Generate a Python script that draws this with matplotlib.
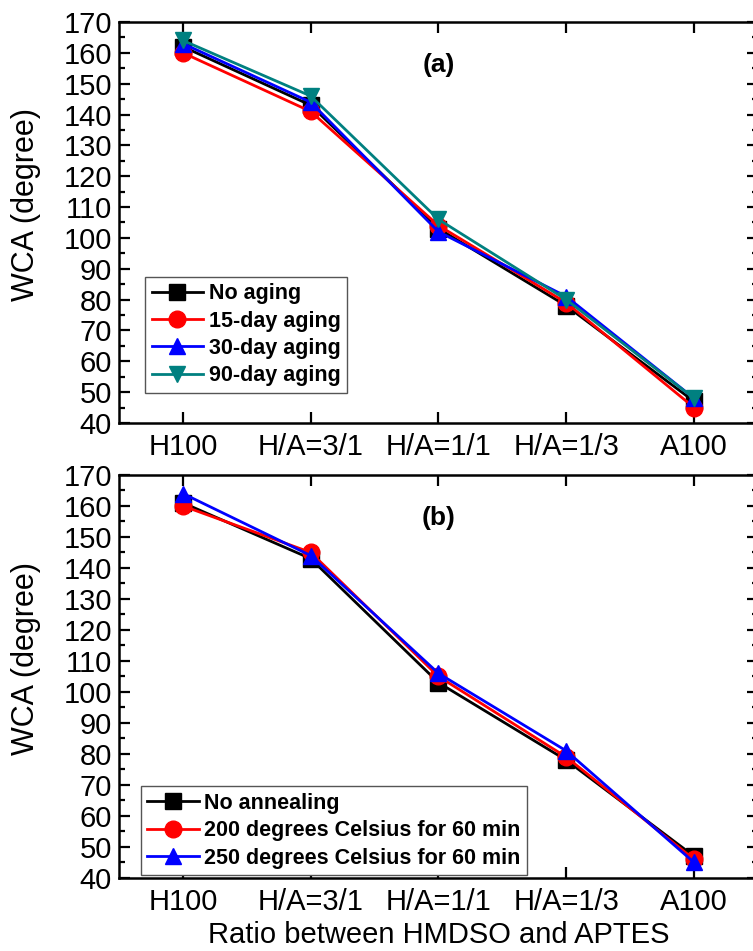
import matplotlib.pyplot as plt
from matplotlib.ticker import MultipleLocator

plt.rcParams["font.family"] = ["Liberation Sans", "DejaVu Sans"]

categories = ["H100", "H/A=3/1", "H/A=1/1", "H/A=1/3", "A100"]

# panel (a): aging
no_aging = [162, 143, 103, 78, 47]
aging_15 = [160, 141, 104, 79, 45]
aging_30 = [163, 144, 102, 81, 48]
aging_90 = [164, 146, 106, 80, 48]

# panel (b): annealing
no_anneal = [161, 143, 103, 78, 47]
anneal_200 = [160, 145, 105, 79, 46]
anneal_250 = [164, 144, 106, 81, 45]

x = list(range(len(categories)))

fig = plt.figure(figsize=(7.53, 9.51), dpi=100)
ax1 = fig.add_axes([0.158, 0.5552, 0.8486, 0.4217])
ax2 = fig.add_axes([0.158, 0.0768, 0.8486, 0.4238])


def style(ax, label):
    ax.set_xlim(-0.5, 4.5)
    ax.set_ylim(40, 170)
    ax.set_xticks(x)
    ax.set_xticklabels(categories)
    ax.yaxis.set_major_locator(MultipleLocator(10))
    ax.yaxis.set_minor_locator(MultipleLocator(5))
    ax.tick_params(which="both", direction="in", top=True, right=True,
                   width=1.6, labelsize=21)
    ax.tick_params(which="major", length=8)
    ax.tick_params(which="minor", length=4.5)
    ax.tick_params(axis="x", pad=7)
    ax.tick_params(axis="y", pad=5)
    for s in ax.spines.values():
        s.set_linewidth(1.8)
    ax.set_ylabel("WCA (degree)", fontsize=22)
    ax.yaxis.set_label_coords(-0.122, 0.545)
    ax.text(0.5, 0.893, label, transform=ax.transAxes, ha="center",
            va="center", fontsize=19, fontweight="bold")


def add_legend(ax, anchor):
    leg = ax.legend(loc="lower left", prop={"weight": "bold", "size": 15.5},
                    fancybox=False, edgecolor="#555555", handlelength=2.4,
                    handletextpad=0.25, borderpad=0.3, labelspacing=0.3,
                    borderaxespad=0, bbox_to_anchor=anchor, framealpha=1)
    leg.get_frame().set_linewidth(1.0)


ax1.plot(x, no_aging, "k-s", lw=2, ms=11, label="No aging")
ax1.plot(x, aging_15, "-o", color="red", lw=2, ms=12, label="15-day aging")
ax1.plot(x, aging_30, "-^", color="blue", lw=2, ms=12, label="30-day aging")
ax1.plot(x, aging_90, "-v", color="#008080", lw=2, ms=12, label="90-day aging")
style(ax1, "(a)")
add_legend(ax1, (0.041, 0.075))

ax2.plot(x, no_anneal, "k-s", lw=2, ms=11, label="No annealing")
ax2.plot(x, anneal_200, "-o", color="red", lw=2, ms=12,
         label="200 degrees Celsius for 60 min")
ax2.plot(x, anneal_250, "-^", color="blue", lw=2, ms=12,
         label="250 degrees Celsius for 60 min")
style(ax2, "(b)")
ax2.set_xlabel("Ratio between HMDSO and APTES", fontsize=21, labelpad=4)
add_legend(ax2, (0.034, 0.007))

fig.savefig("out.png", dpi=100)
